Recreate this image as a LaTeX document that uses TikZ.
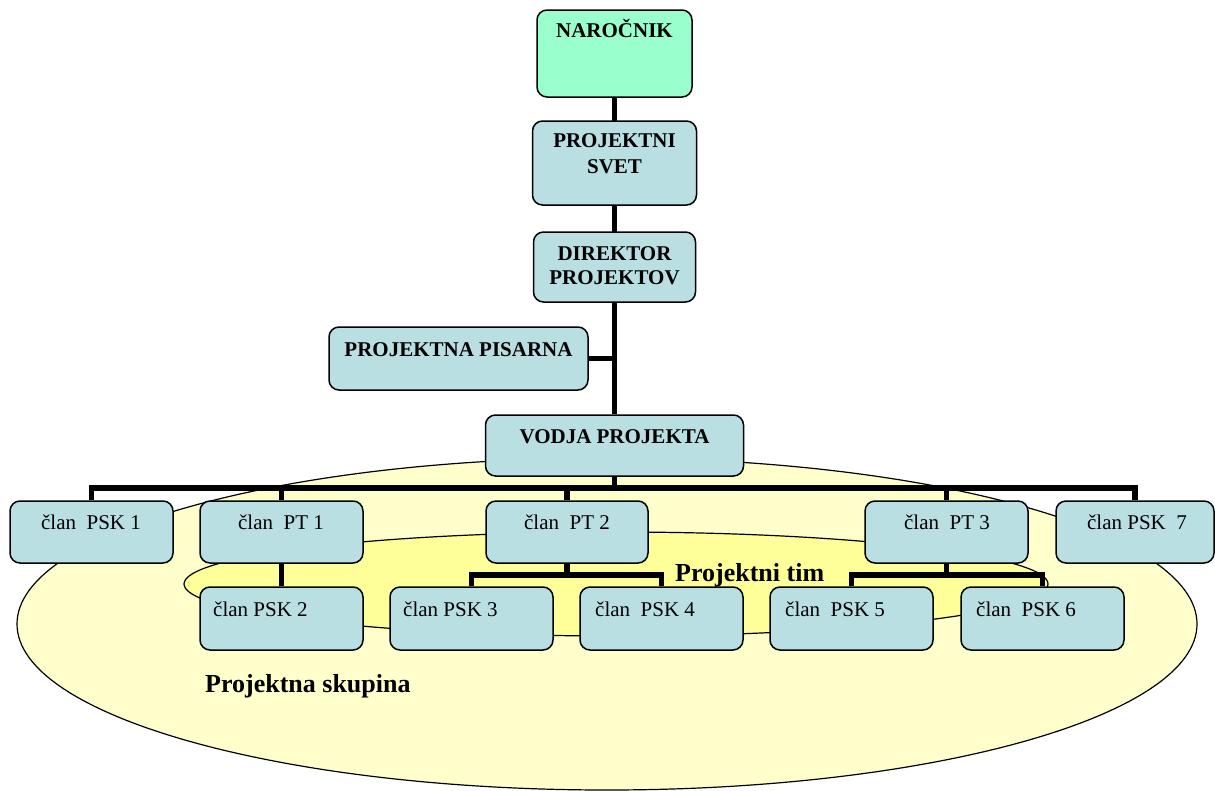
\documentclass[tikz,border=0pt]{standalone}
\usepackage{fontspec}
\setmainfont{Liberation Serif}

\definecolor{boxfill}{HTML}{B9DFE2}
\definecolor{clientfill}{HTML}{99FFCC}
\definecolor{groupfill}{HTML}{FFFFCC}
\definecolor{teamfill}{HTML}{FFFF99}

\pgfdeclarelayer{areas}
\pgfdeclarelayer{links}
\pgfsetlayers{areas,links,main}

\begin{document}
\begin{tikzpicture}[x=1pt,y=-1pt,
  orgbox/.style={draw=black, line width=1.5pt, rounded corners=10pt,
                 fill=boxfill, inner sep=0pt},
  link/.style={draw=black, line width=5.5pt},
  area/.style={draw=black, line width=1.2pt},
  head/.style={font=\fontsize{21}{25}\selectfont\bfseries, anchor=base, inner sep=0pt},
  member/.style={font=\fontsize{21}{25}\selectfont, anchor=base, inner sep=0pt},
  memberleft/.style={member, anchor=base west},
  arealbl/.style={font=\fontsize{26}{30}\selectfont\bfseries, anchor=base west, inner sep=0pt}
]
\useasboundingbox (0,0) rectangle (1215,790);

% project group and project team areas
\begin{pgfonlayer}{areas}
\draw[area, fill=groupfill] (607,624) ellipse [x radius=590, y radius=166];
\draw[area, fill=teamfill] (616,584) ellipse [x radius=432, y radius=52];
\end{pgfonlayer}

% management chain
\node[orgbox, fill=clientfill, minimum width=155pt, minimum height=87pt] (nar) at (614.5,53.5) {};
\node[orgbox, minimum width=164pt, minimum height=84pt] (svet) at (614.5,163) {};
\node[orgbox, minimum width=162pt, minimum height=70pt] (dir)  at (614.5,267) {};
\node[orgbox, minimum width=259pt, minimum height=63pt] (pis)  at (458.5,358.5) {};
\node[orgbox, minimum width=258pt, minimum height=61pt] (vod)  at (614.5,445.5) {};

% first row of members
\node[orgbox, minimum width=163pt, minimum height=62pt] (psk1) at (91.5,532) {};
\node[orgbox, minimum width=163pt, minimum height=62pt] (pt1)  at (281.5,532) {};
\node[orgbox, minimum width=162pt, minimum height=62pt] (pt2)  at (567,532) {};
\node[orgbox, minimum width=163pt, minimum height=62pt] (pt3)  at (946.5,532) {};
\node[orgbox, minimum width=158pt, minimum height=62pt] (psk7) at (1135,532) {};

% second row of members
\node[orgbox, minimum width=163pt, minimum height=63pt] (psk2) at (281.5,618.5) {};
\node[orgbox, minimum width=163pt, minimum height=63pt] (psk3) at (471.5,618.5) {};
\node[orgbox, minimum width=163pt, minimum height=63pt] (psk4) at (661.5,618.5) {};
\node[orgbox, minimum width=163pt, minimum height=63pt] (psk5) at (851.5,618.5) {};
\node[orgbox, minimum width=163pt, minimum height=63pt] (psk6) at (1042.5,618.5) {};

% bus levels
\coordinate (bus)  at (614.5,488);
\coordinate (bus2) at (567,575);
\coordinate (bus3) at (946.5,575);

% connectors
\begin{pgfonlayer}{links}
\draw[link] (nar.south) -- (vod.north);
\draw[link] (pis.east) -- (pis.east -| vod.north);
\draw[link] (vod.south) -- (bus);
\draw[link] (psk1.north) -- (psk1.north |- bus) -- (psk7.north |- bus) -- (psk7.north);
\draw[link] (pt1.north) -- (pt1.north |- bus);
\draw[link] (pt2.north) -- (pt2.north |- bus);
\draw[link] (pt3.north) -- (pt3.north |- bus);
\draw[link] (pt1.south) -- (psk2.north);
\draw[link] (pt2.south) -- (bus2);
\draw[link] (psk3.north) -- (psk3.north |- bus2) -- (psk4.north |- bus2) -- (psk4.north);
\draw[link] (pt3.south) -- (bus3);
\draw[link] (psk5.north) -- (psk5.north |- bus3) -- (psk6.north |- bus3) -- (psk6.north);
\end{pgfonlayer}

% box texts
\node[head] (tnar)  at (614.5,37) {NAROČNIK};
\node[head] (tsv1)  at (614.5,147) {PROJEKTNI};
\node[head] (tsv2)  at (614.5,173) {SVET};
\node[head] (tdi1)  at (614.5,260) {DIREKTOR};
\node[head] (tdi2)  at (614.5,284) {PROJEKTOV};
\node[head] (tpis)  at (458.5,356) {PROJEKTNA PISARNA};
\node[head] (tvod)  at (614.5,443) {VODJA PROJEKTA};

\node[member] (tpsk1) at (91,529)   {član\ \ PSK 1};
\node[member] (tpt1)  at (281,529)  {član\ \ PT 1};
\node[member] (tpt2)  at (567,529)  {član\ \ PT 2};
\node[member] (tpt3)  at (947,529)  {član\ \ PT 3};
\node[member] (tpsk7) at (1137,529) {član PSK\ \ 7};

\node[memberleft] (tpsk2) at (213,616) {član PSK 2};
\node[memberleft] (tpsk3) at (403,616) {član PSK 3};
\node[memberleft] (tpsk4) at (595,616) {član\ \ PSK 4};
\node[memberleft] (tpsk5) at (785,616) {član\ \ PSK 5};
\node[memberleft] (tpsk6) at (976,616) {član\ \ PSK 6};

% area labels
\node[arealbl] (team)  at (675,581) {Projektni tim};
\node[arealbl] (group) at (205,692) {Projektna skupina};
\end{tikzpicture}
\end{document}
